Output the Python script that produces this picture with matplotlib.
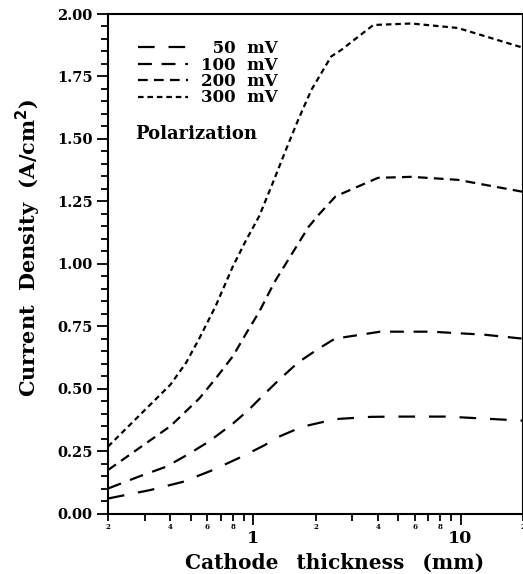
import matplotlib
matplotlib.use("Agg")
import matplotlib.pyplot as plt
from matplotlib.ticker import FixedLocator, FixedFormatter, MultipleLocator, FormatStrFormatter

plt.rcParams['font.family'] = ['DejaVu Serif']
plt.rcParams['font.weight'] = 'bold'
plt.rcParams['lines.scale_dashes'] = False

# ---- data ----
x50 = [0.2, 0.32, 0.46, 0.64, 0.88, 1.14, 1.27, 1.72, 2.5, 3.7, 5.0, 8.6, 16, 20]
y50 = [0.06, 0.094, 0.127, 0.174, 0.227, 0.274, 0.30, 0.347, 0.378, 0.387, 0.388, 0.388, 0.376, 0.372]

x100 = [0.2, 0.28, 0.38, 0.48, 0.61, 0.8, 0.95, 1.14, 1.33, 1.65, 2.07, 2.48, 4.1, 7.2, 13, 20]
y100 = [0.10, 0.147, 0.187, 0.234, 0.287, 0.36, 0.414, 0.48, 0.534, 0.605, 0.66, 0.70, 0.728, 0.728, 0.716, 0.70]

x200 = [0.2, 0.4, 0.55, 0.66, 0.8, 0.94, 1.07, 1.27, 1.54, 1.85, 2.07, 2.5, 4.0, 5.8, 9.7, 20]
y200 = [0.174, 0.35, 0.46, 0.54, 0.63, 0.73, 0.807, 0.927, 1.04, 1.147, 1.196, 1.27, 1.344, 1.348, 1.336, 1.288]

x300 = [0.2, 0.4, 0.476, 0.55, 0.66, 0.8, 0.92, 1.07, 1.24, 1.44, 1.65, 1.91, 2.38, 2.66, 3.8, 5.8, 9.7, 20]
y300 = [0.268, 0.516, 0.604, 0.70, 0.83, 0.99, 1.09, 1.19, 1.32, 1.456, 1.576, 1.696, 1.83, 1.856, 1.956, 1.962, 1.944, 1.865]

labels = ["\u200750  mV", "100  mV", "200  mV", "300  mV"]

x_major = [1, 10]
x_major_labels = ["1", "10"]
x_minor = [0.2, 0.3, 0.4, 0.5, 0.6, 0.7, 0.8, 0.9, 2, 3, 4, 5, 6, 7, 8, 9, 20]
x_minor_labels = ["2", "", "4", "", "6", "", "8", "", "2", "", "4", "", "6", "", "8", "", "2"]

# ---- figure ----
fig = plt.figure(figsize=(5.23, 5.74), dpi=100)
W, H = 523, 574
x0, y0b, x1, y1t = 108, 513.5, 523, 14
ax = fig.add_axes([x0 / W, 1 - y0b / H, (x1 - x0) / W, (y0b - y1t) / H])

lw = 1.6
ax.plot(x50, y50, color='black', lw=lw, dashes=(12, 10), label=labels[0])
ax.plot(x100, y100, color='black', lw=lw, dashes=(10, 7), label=labels[1])
ax.plot(x200, y200, color='black', lw=lw, dashes=(7, 4.5), label=labels[2])
ax.plot(x300, y300, color='black', lw=lw, dashes=(4, 2.8), label=labels[3])

ax.set_xscale('log')
ax.set_xlim(0.2, 20)
ax.set_ylim(0, 2.0)

ax.xaxis.set_major_locator(FixedLocator(x_major))
ax.xaxis.set_major_formatter(FixedFormatter(x_major_labels))
ax.xaxis.set_minor_locator(FixedLocator(x_minor))
ax.xaxis.set_minor_formatter(FixedFormatter(x_minor_labels))

ax.yaxis.set_major_locator(MultipleLocator(0.25))
ax.yaxis.set_minor_locator(MultipleLocator(0.05))
ax.yaxis.set_major_formatter(FormatStrFormatter('%.2f'))

ax.tick_params(axis='x', which='major', direction='out', length=8, width=1.3, pad=4, labelsize=12.5)
ax.tick_params(axis='x', which='minor', direction='out', length=5, width=1.3, pad=1.5, labelsize=5)
ax.tick_params(axis='y', which='major', direction='out', length=8, width=1.3, pad=3, labelsize=10.5)
ax.tick_params(axis='y', which='minor', direction='out', length=5, width=1.3)

for s in ax.spines.values():
    s.set_linewidth(1.5)

ax.set_xlabel("Cathode  \u2009thickness  \u2009(mm)", fontsize=14.5, fontweight='bold')
ax.xaxis.set_label_coords((335 - x0) / (x1 - x0), -(568.5 - y0b) / (y0b - y1t))
ax.xaxis.label.set_va('baseline')

ax.set_ylabel("Current  Density  (A/cm$^\\mathbf{2}$)", fontsize=15, fontweight='bold')
ax.yaxis.set_label_coords(-(x0 - 28) / (x1 - x0), (y0b - 248) / (y0b - y1t))
ax.yaxis.label.set_va('center')

leg = ax.legend(loc='upper left', bbox_to_anchor=((138 - x0) / (x1 - x0), (y0b - 40) / (y0b - y1t)),
                frameon=False, fontsize=12, handlelength=3.0, handletextpad=0.78,
                labelspacing=-0.03, borderpad=0, borderaxespad=0)

ax.text((135 - x0) / (x1 - x0), (y0b - 134) / (y0b - y1t), "Polarization", transform=ax.transAxes,
        fontsize=13, fontweight='bold', ha='left', va='center')

fig.savefig("out.png", dpi=100)
